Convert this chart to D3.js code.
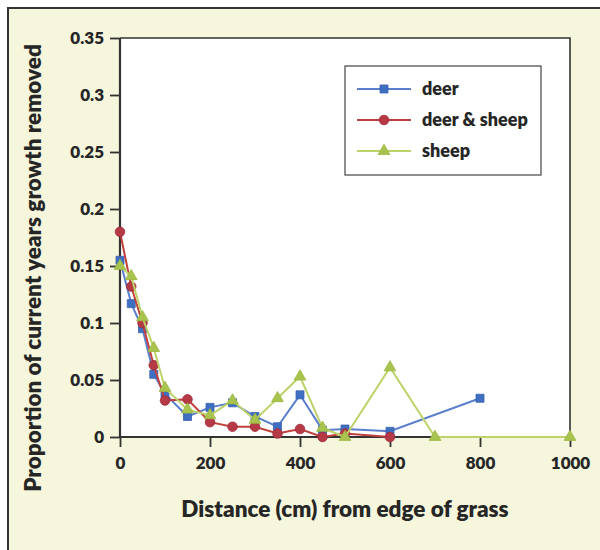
<!DOCTYPE html>
<html>
<head>
<meta charset="utf-8">
<script src="https://cdn.jsdelivr.net/npm/d3@7"></script>
<style>
  html, body { margin: 0; padding: 0; background: #ffffff; }
  svg text { font-family: Lato, "Open Sans", sans-serif; font-weight: 800; fill: #262626; }
</style>
</head>
<body>
<svg id="chart" width="600" height="550"></svg>
<script>
// Distances (cm) from the grass edge, per series
const deerX   = [0, 25, 50, 75, 100, 150, 200, 250, 300, 350, 400, 450, 500, 600, 800];
const deerY   = [0.155, 0.117, 0.095, 0.055, 0.038, 0.018, 0.026, 0.030, 0.018, 0.009, 0.037, 0.006, 0.007, 0.005, 0.034];

const bothX   = [0, 25, 50, 75, 100, 150, 200, 250, 300, 350, 400, 450, 500, 600];
const bothY   = [0.180, 0.132, 0.100, 0.063, 0.032, 0.033, 0.013, 0.009, 0.009, 0.003, 0.007, 0.000, 0.003, 0.000];

const sheepX  = [0, 25, 50, 75, 100, 150, 200, 250, 300, 350, 400, 450, 500, 600, 700, 1000];
const sheepY  = [0.150, 0.141, 0.105, 0.078, 0.043, 0.024, 0.019, 0.032, 0.015, 0.034, 0.053, 0.008, 0.000, 0.061, 0.000, 0.000];

const seriesNames = ["deer", "deer & sheep", "sheep"];
const xTicks = [0, 200, 400, 600, 800, 1000];
const yTicks = [0, 0.05, 0.1, 0.15, 0.2, 0.25, 0.3, 0.35];
const yTickLabels = ["0", "0.05", "0.1", "0.15", "0.2", "0.25", "0.3", "0.35"];

const svg = d3.select("#chart");

// Pale panel with a dark frame along the top and left
svg.append("rect").attr("x", 0).attr("y", 0).attr("width", 600).attr("height", 550).attr("fill", "#ffffff");
svg.append("rect").attr("x", 8).attr("y", 9).attr("width", 592).attr("height", 541).attr("fill", "#f6f6dc");
svg.append("line").attr("x1", 7).attr("x2", 600).attr("y1", 8).attr("y2", 8).attr("stroke", "#333").attr("stroke-width", 2);
svg.append("line").attr("x1", 8).attr("x2", 8).attr("y1", 8).attr("y2", 550).attr("stroke", "#333").attr("stroke-width", 2);

const plotL = 120, plotR = 570, plotT = 38, plotB = 437;
const x = d3.scaleLinear().domain([0, 1000]).range([plotL, plotR]);
const y = d3.scaleLinear().domain([0, 0.35]).range([plotB, plotT]);

// Plot area
svg.append("rect").attr("x", plotL).attr("y", plotT).attr("width", plotR - plotL).attr("height", plotB - plotT)
  .attr("fill", "#ffffff");
svg.append("path")
  .attr("d", `M${plotL},${plotT}H${plotR}V${plotB}`)
  .attr("fill", "none").attr("stroke", "#333").attr("stroke-width", 1.6);

// Axes
const yAxis = svg.append("g").attr("transform", `translate(${plotL},0)`)
  .call(d3.axisLeft(y).tickValues(yTicks).tickFormat((d, i) => yTickLabels[i]).tickSize(10).tickPadding(6));
const xAxis = svg.append("g").attr("transform", `translate(0,${plotB})`)
  .call(d3.axisBottom(x).tickValues(xTicks).tickFormat(d3.format("d")).tickSize(10).tickPadding(10));
[xAxis, yAxis].forEach(g => {
  g.select(".domain").attr("stroke", "#333").attr("stroke-width", 2.2);
  g.selectAll(".tick line").attr("stroke", "#333").attr("stroke-width", 1.8);
  g.selectAll(".tick text").style("font-size", "17px").style("font-family", "Lato, sans-serif").style("font-weight", "800").attr("fill", "#262626");
});
yAxis.select(".domain").attr("d", `M0,${plotT}V${plotB}`);
xAxis.select(".domain").attr("d", `M${plotL},0H${plotR}`);

// Axis titles
svg.append("text").attr("x", 345).attr("y", 517).attr("text-anchor", "middle")
  .style("font-size", "22.5px").text("Distance (cm) from edge of grass");
svg.append("text").attr("transform", "translate(41,268) rotate(-90)").attr("text-anchor", "middle")
  .style("font-size", "22.5px").text("Proportion of current years growth removed");

// Series
const series = [
  { name: seriesNames[0], xs: deerX,  ys: deerY,  line: "#5a7fcc", fill: "#3f6fc2", stroke: "#3a62b0", shape: d3.symbolSquare,   size: 64 },
  { name: seriesNames[1], xs: bothX,  ys: bothY,  line: "#c0403c", fill: "#b53a45", stroke: "#a0283a", shape: d3.symbolCircle,   size: 72 },
  { name: seriesNames[2], xs: sheepX, ys: sheepY, line: "#bcd36a", fill: "#a9c44e", stroke: "#9ab840", shape: d3.symbolTriangle, size: 60 }
];

const lineGen = d3.line().x(d => x(d[0])).y(d => y(d[1]));

series.forEach(s => {
  const pts = s.xs.map((v, i) => [v, s.ys[i]]);
  svg.append("path").datum(pts).attr("d", lineGen)
    .attr("fill", "none").attr("stroke", s.line).attr("stroke-width", 2);
  svg.append("g").selectAll("path").data(pts).join("path")
    .attr("transform", d => `translate(${x(d[0])},${y(d[1])})`)
    .attr("d", d3.symbol().type(s.shape).size(s.size))
    .attr("fill", s.fill).attr("stroke", s.stroke).attr("stroke-width", 0.8);
});

// Legend
const lg = svg.append("g");
lg.append("rect").attr("x", 345).attr("y", 66).attr("width", 196).attr("height", 109)
  .attr("fill", "#ffffff").attr("stroke", "#444").attr("stroke-width", 1.2);
series.forEach((s, i) => {
  const ly = 89 + i * 31;
  lg.append("line").attr("x1", 357).attr("x2", 411).attr("y1", ly).attr("y2", ly)
    .attr("stroke", s.line).attr("stroke-width", 2);
  lg.append("path").attr("transform", `translate(384,${ly})`)
    .attr("d", d3.symbol().type(s.shape).size(s.size))
    .attr("fill", s.fill).attr("stroke", s.stroke).attr("stroke-width", 0.8);
  lg.append("text").attr("x", 422).attr("y", ly + 6).style("font-size", "18px").text(s.name);
});
</script>
</body>
</html>
